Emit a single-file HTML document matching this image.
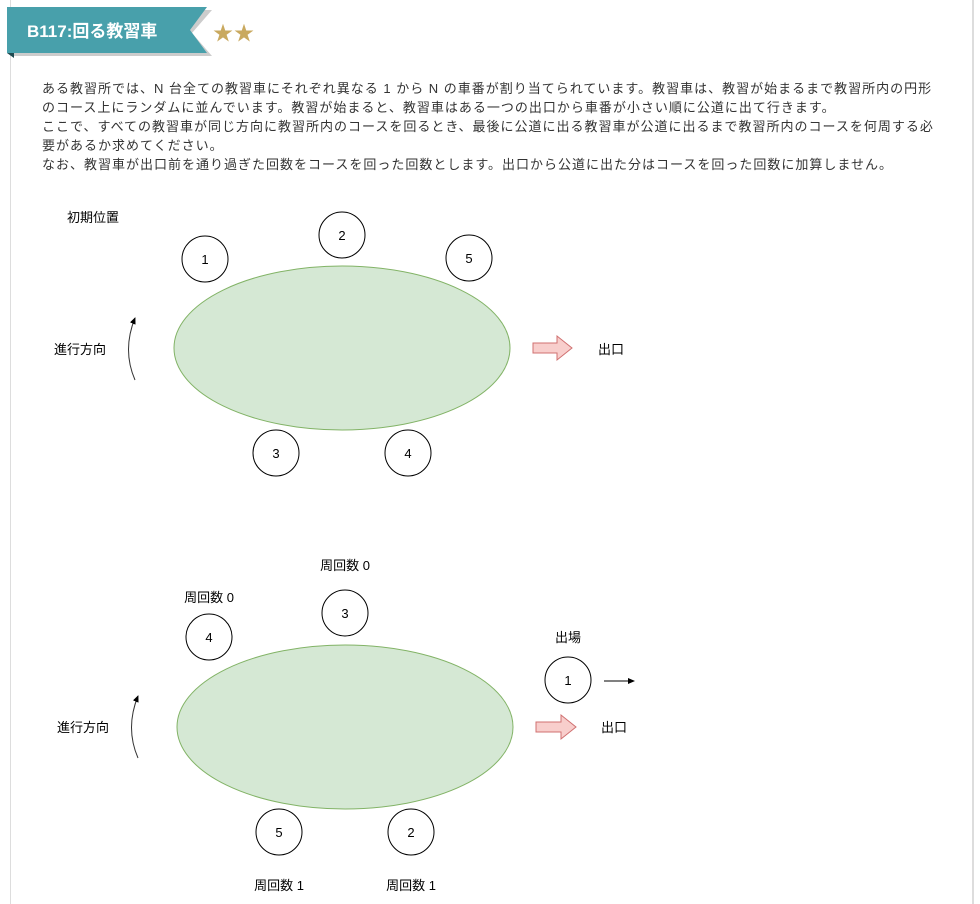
<!DOCTYPE html>
<html><head><meta charset="utf-8"><style>
html,body{margin:0;padding:0;background:#fff;width:980px;height:904px;overflow:hidden}
body{font-family:"Liberation Sans","Noto Sans CJK JP",sans-serif}
.card{position:absolute;left:10px;top:0;width:961px;height:904px;border-left:1px solid #ddd;border-right:2px solid #ddd}
.p{position:absolute;left:42px;top:79px;width:898px;font-size:13px;line-height:19px;color:#333;letter-spacing:1px}
svg{position:absolute;left:0;top:0}
</style></head><body>
<div class="card"></div>
<svg width="980" height="904" xmlns="http://www.w3.org/2000/svg" font-family="Liberation Sans, Noto Sans CJK JP, sans-serif">
<polygon points="10,10 212,10 192,33 212,56 10,56" fill="#ccc"/>
<polygon points="7,7 207,7 190,30 207,53 7,53" fill="#48a0ab"/>
<polygon points="7,53 14,53 14,58" fill="#1e4a50"/>
<text x="27" y="37" font-size="17" font-weight="bold" fill="#fff">B117:回る教習車</text>
<text x="213" y="40" font-size="20" fill="#c9a95f" letter-spacing="1">★★</text>
</svg>
<div class="p">ある教習所では、N 台全ての教習車にそれぞれ異なる 1 から N の車番が割り当てられています。教習車は、教習が始まるまで教習所内の円形のコース上にランダムに並んでいます。教習が始まると、教習車はある一つの出口から車番が小さい順に公道に出て行きます。<br>ここで、すべての教習車が同じ方向に教習所内のコースを回るとき、最後に公道に出る教習車が公道に出るまで教習所内のコースを何周する必要があるか求めてください。<br>なお、教習車が出口前を通り過ぎた回数をコースを回った回数とします。出口から公道に出た分はコースを回った回数に加算しません。</div>
<svg width="980" height="904" xmlns="http://www.w3.org/2000/svg" font-family="Liberation Sans, Noto Sans CJK JP, sans-serif" font-size="13" text-anchor="middle">
<defs><marker id="a" markerWidth="8" markerHeight="8" refX="6" refY="4" orient="auto"><path d="M0,1 L7,4 L0,7 z" fill="#000"/></marker></defs>
<g stroke="#000" fill="#fff">
<text x="93" y="222" stroke="none" fill="#000">初期位置</text>
<circle cx="205" cy="259" r="23"/><circle cx="342" cy="235" r="23"/><circle cx="469" cy="258" r="23"/>
<circle cx="276" cy="453" r="23"/><circle cx="408" cy="453" r="23"/>
<ellipse cx="342" cy="348" rx="168" ry="82" fill="#d5e8d4" stroke="#82b366"/>
<path d="M135,380 Q122,350 135,318" fill="none" stroke="#333" marker-end="url(#a)"/>
<polygon points="533,343 557,343 557,336 572,348 557,360 557,353 533,353" fill="#f8cecc" stroke="#d07070"/>
</g>
<g fill="#000">
<text x="205" y="264">1</text><text x="342" y="240">2</text><text x="469" y="263">5</text><text x="276" y="458">3</text><text x="408" y="458">4</text>
<text x="80" y="354">進行方向</text><text x="611" y="354">出口</text>
</g>
<g stroke="#000" fill="#fff">
<circle cx="345" cy="613" r="23"/><circle cx="209" cy="637" r="23"/><circle cx="568" cy="680" r="23"/>
<circle cx="279" cy="832" r="23"/><circle cx="411" cy="832" r="23"/>
<ellipse cx="345" cy="727" rx="168" ry="82" fill="#d5e8d4" stroke="#82b366"/>
<path d="M138,758 Q125,728 138,696" fill="none" stroke="#333" marker-end="url(#a)"/>
<path d="M604,681 L634,681" fill="none" marker-end="url(#a)"/>
<polygon points="536,722 561,722 561,715 576,727 561,739 561,732 536,732" fill="#f8cecc" stroke="#d07070"/>
</g>
<g fill="#000">
<text x="345" y="618">3</text><text x="209" y="642">4</text><text x="568" y="685">1</text><text x="279" y="837">5</text><text x="411" y="837">2</text>
<text x="345" y="570">周回数 0</text><text x="209" y="602">周回数 0</text><text x="568" y="642">出場</text>
<text x="279" y="890">周回数 1</text><text x="411" y="890">周回数 1</text>
<text x="83" y="732">進行方向</text><text x="614" y="732">出口</text>
</g>
</svg>
</body></html>
